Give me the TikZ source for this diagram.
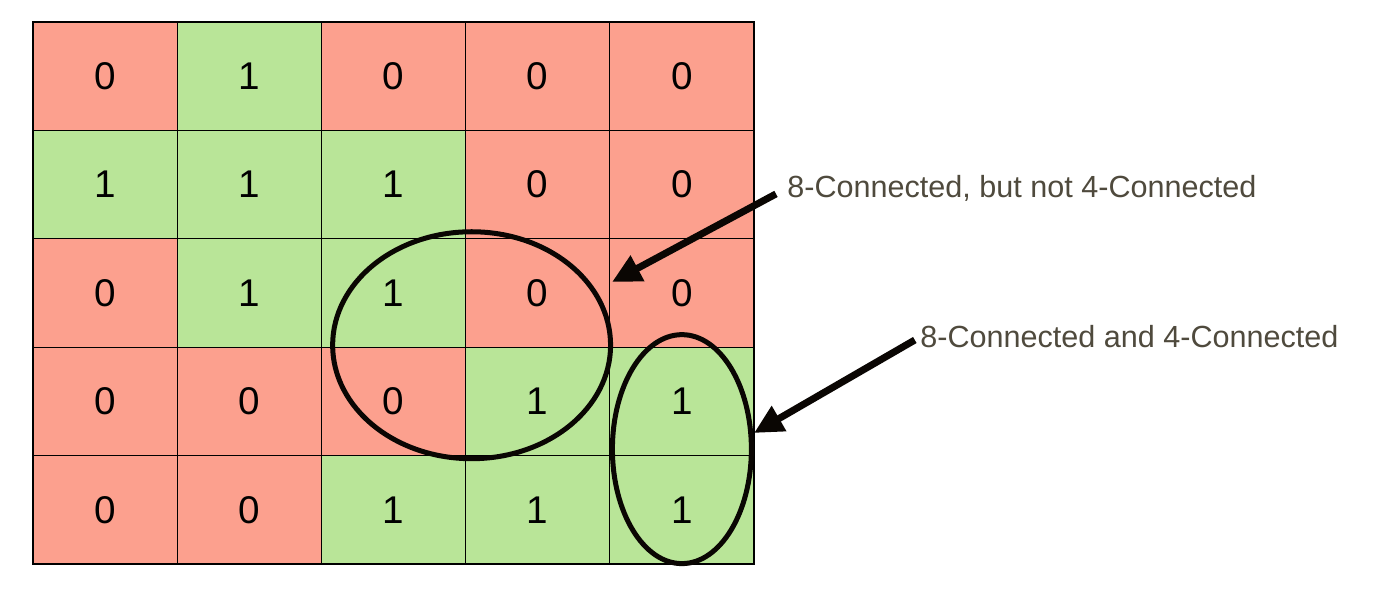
\documentclass[tikz,border=0pt]{standalone}
\usepackage{fontspec}
\setmainfont{Liberation Sans}
\usepackage{xcolor}
\definecolor{m_red}{HTML}{FCA08E}
\definecolor{m_green}{HTML}{B9E598}
\definecolor{m_text}{HTML}{4F4A3D}
\usepackage{tikz}
\usetikzlibrary{positioning,arrows.meta,shapes.geometric}

\begin{document}
\begin{tikzpicture}[
        x=0.02cm, y=-0.02cm,
        cell/.style={draw=black,line width=0.6pt,minimum width=2.884cm,minimum height=2.168cm,
            inner sep=0pt,font=\fontsize{22}{26}\selectfont},
        bit0/.style={fill=m_red},
        bit1/.style={fill=m_green},
        ring/.style={ellipse,draw=black!95!brown,line width=2.85pt,inner sep=0pt},
        note/.style={anchor=west,inner sep=0pt,text=m_text,font=\fontsize{17.4}{20}\selectfont},
        pointer/.style={draw=black!95!brown,line width=4pt,-{Triangle[length=0.58cm,width=0.55cm]}}
    ]
        \useasboundingbox (0,0) rectangle (1400,596);
        % the 5x5 grid of pixels
        \foreach \row [count=\r] in {{0,1,0,0,0},{1,1,1,0,0},{0,1,1,0,0},{0,0,0,1,1},{0,0,1,1,1}}
            \foreach \v [count=\c] in \row
                \node[cell,bit\v] (c-\r-\c) at ({33+144.2*(\c-0.5)},{22+108.4*(\r-0.5)}) {\v};
        % the two groups
        \node[ring,minimum width=5.56cm,minimum height=4.54cm] (ring1) at ([xshift=0.11cm,yshift=0.05cm]c-3-3.south east) {};
        \node[ring,minimum width=2.78cm,minimum height=4.58cm] (ring2) at ([yshift=0.14cm]c-4-5.south) {};
        % labels and arrows
        \node[note] (lab1) at (787,188) {8-Connected, but not 4-Connected};
        \node[note] (lab2) at (920,337) {8-Connected and 4-Connected};
        \coordinate (tip1) at (612,282);
        \coordinate (tip2) at (754,433);
        \draw[pointer,shorten <=0.25cm] (lab1.west) -- (tip1);
        \draw[pointer,shorten <=0.12cm] (lab2.west) -- (tip2);
    \end{tikzpicture}
\end{document}
